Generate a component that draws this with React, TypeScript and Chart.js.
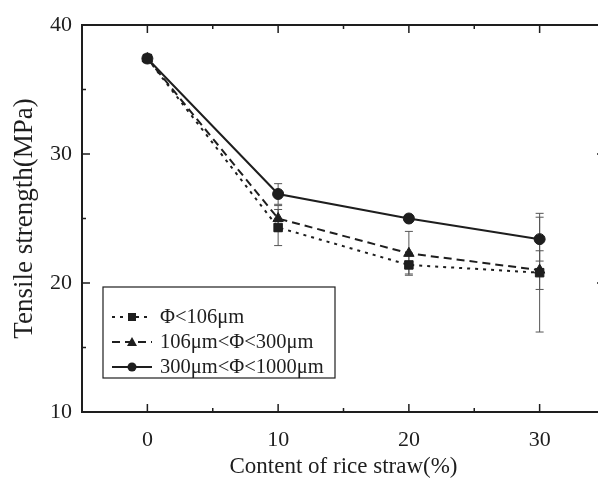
import React, { useEffect, useRef } from "react";
import { Chart, registerables } from "chart.js";
Chart.register(...registerables);

const contents = [0, 10, 20, 30];
const seriesNames = ["Φ<106μm", "106μm<Φ<300μm", "300μm<Φ<1000μm"];
const smallValues = [37.4, 24.3, 21.4, 20.8];
const smallErrors = [0.3, 1.4, 0.7, 4.6];
const midValues = [37.4, 25.0, 22.3, 21.0];
const midErrors = [0.3, 1.0, 1.7, 1.5];
const largeValues = [37.4, 26.9, 25.0, 23.4];
const largeErrors = [0.3, 0.8, 0.3, 1.7];
const xTicks = [0, 10, 20, 30];
const yTicks = [10, 20, 30, 40];

const INK = "#1e1e1e";
const SERIF = '"Liberation Serif", "Times New Roman", serif';
const dashes = [[3, 5], [8, 5], []];
const pointStyles = ["rect", "triangle", "circle"];
const pointRadii = [6, 6, 5.5];

function drawMarker(ctx: CanvasRenderingContext2D, style: string, x: number, y: number) {
  ctx.save();
  ctx.setLineDash([]);
  ctx.fillStyle = INK;
  ctx.beginPath();
  if (style === "rect") {
    ctx.rect(x - 4, y - 4, 8, 8);
  } else if (style === "triangle") {
    ctx.moveTo(x, y - 5);
    ctx.lineTo(x + 5, y + 4);
    ctx.lineTo(x - 5, y + 4);
    ctx.closePath();
  } else {
    ctx.arc(x, y, 4.5, 0, Math.PI * 2);
  }
  ctx.fill();
  ctx.restore();
}

const framePlugin = {
  id: "frame",
  beforeDatasetsDraw(chart: any) {
    const ctx = chart.ctx as CanvasRenderingContext2D;
    const xs = chart.scales.x;
    const ys = chart.scales.y;
    const sets = [
      [smallValues, smallErrors],
      [midValues, midErrors],
      [largeValues, largeErrors],
    ];
    ctx.save();
    ctx.strokeStyle = "#555";
    ctx.lineWidth = 1;
    sets.forEach(([vals, errs]) => {
      vals.forEach((v, i) => {
        const px = xs.getPixelForValue(contents[i]);
        const top = ys.getPixelForValue(v + errs[i]);
        const bot = ys.getPixelForValue(v - errs[i]);
        ctx.beginPath();
        ctx.moveTo(px, top);
        ctx.lineTo(px, bot);
        ctx.moveTo(px - 4, top);
        ctx.lineTo(px + 4, top);
        ctx.moveTo(px - 4, bot);
        ctx.lineTo(px + 4, bot);
        ctx.stroke();
      });
    });
    ctx.restore();
  },
  afterDraw(chart: any) {
    const ctx = chart.ctx as CanvasRenderingContext2D;
    const { left, right, top, bottom } = chart.chartArea;
    const xs = chart.scales.x;
    const ys = chart.scales.y;
    ctx.save();
    ctx.strokeStyle = INK;
    ctx.lineWidth = 2;
    ctx.beginPath();
    ctx.moveTo(left, top);
    ctx.lineTo(right, top);
    ctx.lineTo(right, bottom);
    ctx.stroke();
    ctx.lineWidth = 1.5;
    ctx.beginPath();
    [-5, 0, 5, 10, 15, 20, 25, 30, 35].forEach((v) => {
      const px = xs.getPixelForValue(v);
      const len = v % 10 === 0 ? 8 : 4;
      if (px <= left + 1 || px >= right - 1) return;
      ctx.moveTo(px, bottom);
      ctx.lineTo(px, bottom - len);
      ctx.moveTo(px, top);
      ctx.lineTo(px, top + len);
    });
    [15, 20, 25, 30, 35].forEach((v) => {
      const py = ys.getPixelForValue(v);
      const len = v % 10 === 0 ? 8 : 4;
      ctx.moveTo(left, py);
      ctx.lineTo(left + len, py);
      ctx.moveTo(right, py);
      ctx.lineTo(right - len, py);
    });
    ctx.stroke();

    // legend
    const bx = 103, by = 287, bw = 232, bh = 91;
    ctx.lineWidth = 1.2;
    ctx.strokeStyle = INK;
    ctx.strokeRect(bx, by, bw, bh);
    ctx.font = `20.5px ${SERIF}`;
    ctx.fillStyle = INK;
    ctx.textBaseline = "middle";
    ctx.textAlign = "left";
    seriesNames.forEach((name, i) => {
      const y = by + 30 + i * 25;
      ctx.save();
      ctx.lineWidth = 2;
      ctx.setLineDash(dashes[i]);
      ctx.beginPath();
      ctx.moveTo(112, y);
      ctx.lineTo(152, y);
      ctx.stroke();
      ctx.restore();
      drawMarker(ctx, pointStyles[i], 132, y);
      ctx.fillText(name, 160, y + 1);
    });
    ctx.restore();
  },
};

export default function App() {
  const ref = useRef<HTMLCanvasElement>(null);
  useEffect(() => {
    if (!ref.current) return;
    const series = [smallValues, midValues, largeValues];
    const chart = new Chart(ref.current, {
      type: "line",
      data: {
        datasets: series.map((vals, i) => ({
          label: seriesNames[i],
          data: vals.map((v, j) => ({ x: contents[j], y: v })),
          borderColor: INK,
          backgroundColor: INK,
          borderWidth: 2,
          borderDash: dashes[i],
          pointStyle: pointStyles[i] as any,
          pointRadius: pointRadii[i],
          pointBackgroundColor: INK,
          pointBorderColor: INK,
          pointBorderWidth: 1,
          tension: 0,
        })),
      },
      options: {
        responsive: false,
        animation: false,
        layout: { padding: { left: 0, top: 25, right: 15, bottom: 0 } },
        plugins: { legend: { display: false }, tooltip: { enabled: false } },
        scales: {
          x: {
            type: "linear",
            min: -5,
            max: 35,
            afterBuildTicks: (s: any) => {
              s.ticks = xTicks.map((v) => ({ value: v }));
            },
            afterFit: (s: any) => {
              s.height = 69;
            },
            grid: { display: false, drawTicks: false, tickLength: 0 },
            border: { display: true, color: INK, width: 2 },
            ticks: {
              color: INK,
              padding: 15,
              font: { family: SERIF, size: 22 },
              callback: (v: any) => String(v),
            },
            title: {
              display: true,
              text: "Content of rice straw(%)",
              color: INK,
              font: { family: SERIF, size: 23 },
              padding: { top: 0, bottom: 0 },
            },
          },
          y: {
            type: "linear",
            min: 10,
            max: 40,
            afterBuildTicks: (s: any) => {
              s.ticks = yTicks.map((v) => ({ value: v }));
            },
            afterFit: (s: any) => {
              s.width = 82;
            },
            grid: { display: false, drawTicks: false, tickLength: 0 },
            border: { display: true, color: INK, width: 2 },
            ticks: {
              color: INK,
              padding: 10,
              font: { family: SERIF, size: 22 },
              callback: (v: any) => String(v),
            },
            title: {
              display: true,
              text: "Tensile strength(MPa)",
              color: INK,
              font: { family: SERIF, size: 27 },
              padding: { top: 9, bottom: 0 },
            },
          },
        },
      },
      plugins: [framePlugin],
    });
    return () => chart.destroy();
  }, []);
  return (
    <div
      style={{
        position: "fixed",
        left: 0,
        top: 0,
        width: 598,
        height: 481,
        overflow: "hidden",
        background: "#fff",
      }}
    >
      <canvas ref={ref} width={620} height={481} style={{ width: 620, height: 481, display: "block" }} />
    </div>
  );
}
